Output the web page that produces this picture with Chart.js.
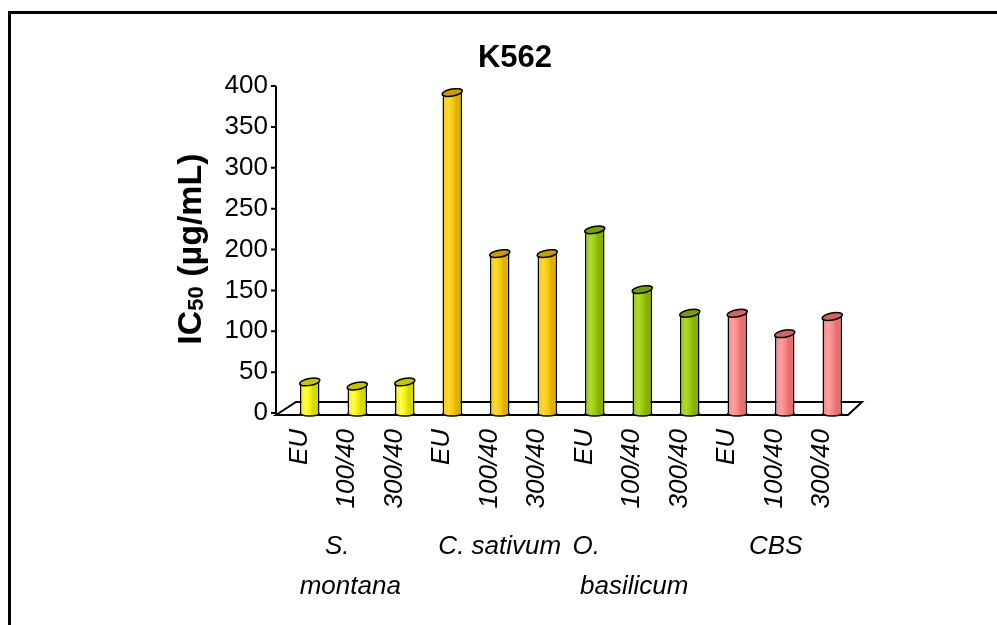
<!DOCTYPE html>
<html>
<head>
<meta charset="utf-8">
<script src="https://cdn.jsdelivr.net/npm/chart.js@4"></script>
<style>
  body { margin: 0; background: #fff; }
  #wrap { position: relative; width: 997px; height: 625px; overflow: hidden; }
  #frame { position: absolute; left: 8px; top: 11px; right: -5px; bottom: -5px; border-left: 3px solid #000; border-top: 3px solid #000; }
  canvas { position: absolute; left: 0; top: 0; }
</style>
</head>
<body>
<div id="wrap"><div id="frame"></div><canvas id="myChart" width="997" height="625"></canvas></div>
<script>
// data
const labels = ['EU', '100/40', '300/40', 'EU', '100/40', '300/40', 'EU', '100/40', '300/40', 'EU', '100/40', '300/40'];
const groups = [['S.', 'montana'], ['C. sativum'], ['O.', 'basilicum'], ['CBS']];
const ic50 = [38, 33, 38, 392, 195, 195, 224, 151, 122, 122, 97, 118];
const yTicks = [0, 50, 100, 150, 200, 250, 300, 350, 400];
const chartTitle = 'K562';

// one colour set per group (3 bars each)
const palette = [
    { base: '#F0F000', light: '#FFFF4D', dark: '#D6D600', cap: '#C4C400' },
    { base: '#F8C800', light: '#FFD83A', dark: '#E0B000', cap: '#C99D00' },
    { base: '#99C800', light: '#B0D838', dark: '#86B000', cap: '#76A000' },
    { base: '#FA8282', light: '#FFA0A0', dark: '#E27070', cap: '#D06666' }
];
const FONT = "'Liberation Sans', Arial, sans-serif";
// the wrapped group names are not centred line by line in the original
const lineShift = [[-10, 3], [10], [-46, 2], [1]];

function colorsFor(i) {
    return palette[Math.floor(i / 3)];
}

function barGradient(ctx, x, w, c) {
    const g = ctx.createLinearGradient(x - w / 2, 0, x + w / 2, 0);
    g.addColorStop(0, c.base);
    g.addColorStop(0.3, c.light);
    g.addColorStop(0.55, c.base);
    g.addColorStop(0.7, c.dark);
    g.addColorStop(1, c.dark);
    return g;
}

const cylinders = {
    id: 'cylinders',
    beforeDatasetsDraw(chart) {
        const ctx = chart.ctx;
        const a = chart.chartArea;
        const y = chart.scales.y;
        const b = y.getPixelForValue(0);
        ctx.save();
        ctx.strokeStyle = '#000';
        ctx.lineWidth = 2;
        // floor
        ctx.beginPath();
        ctx.moveTo(a.left - 10, b + 2);
        ctx.lineTo(a.left + 10, b - 11);
        ctx.lineTo(a.right + 6, b - 11);
        ctx.lineTo(a.right - 8, b + 2);
        ctx.closePath();
        ctx.stroke();
        // value axis
        ctx.beginPath();
        ctx.moveTo(a.left - 10, y.getPixelForValue(400));
        ctx.lineTo(a.left - 10, b + 2);
        yTicks.forEach(function (v) {
            const py = y.getPixelForValue(v);
            ctx.moveTo(a.left - 15, py);
            ctx.lineTo(a.left - 10, py);
        });
        ctx.stroke();
        ctx.restore();
    },
    afterDatasetsDraw(chart) {
        const ctx = chart.ctx;
        const meta = chart.getDatasetMeta(0);
        ctx.save();
        ctx.strokeStyle = '#000';
        ctx.lineWidth = 1.5;
        meta.data.forEach(function (bar, i) {
            const c = colorsFor(i);
            const w = bar.width;
            // rounded bottom
            ctx.beginPath();
            ctx.ellipse(bar.x, bar.base, w / 2, 3, 0, 0, Math.PI);
            ctx.fillStyle = barGradient(ctx, bar.x, w, c);
            ctx.fill();
            ctx.stroke();
            // top cap
            ctx.beginPath();
            ctx.ellipse(bar.x, bar.y, w / 2 + 0.5, 3.5, -0.18, 0, Math.PI * 2);
            ctx.fillStyle = c.cap;
            ctx.fill();
            ctx.stroke();
        });
        ctx.restore();
    },
    afterDraw(chart) {
        const ctx = chart.ctx;
        const x = chart.scales.x;
        ctx.save();
        ctx.fillStyle = '#000';
        ctx.textAlign = 'center';
        ctx.textBaseline = 'middle';
        // title
        ctx.font = 'bold 31px ' + FONT;
        ctx.fillText(chartTitle, 515, 58);
        // group names under the ticks
        ctx.font = 'italic 26px ' + FONT;
        groups.forEach(function (lines, g) {
            const cx = x.getPixelForValue(g * 3 + 1) - 10;
            lines.forEach(function (t, k) {
                ctx.fillText(t, cx + lineShift[g][k], 547 + k * 40);
            });
        });
        // y axis title with subscript
        ctx.translate(201, 249);
        ctx.rotate(-Math.PI / 2);
        ctx.textAlign = 'left';
        ctx.textBaseline = 'alphabetic';
        const big = 'bold 34px ' + FONT, small = 'bold 22px ' + FONT;
        ctx.font = big;
        const w1 = ctx.measureText('IC').width;
        const w3 = ctx.measureText(' (µg/mL)').width;
        ctx.font = small;
        const w2 = ctx.measureText('50').width;
        let sx = -(w1 + w2 + w3) / 2;
        ctx.font = big;
        ctx.fillText('IC', sx, 0);
        ctx.font = small;
        ctx.fillText('50', sx + w1, 2);
        ctx.font = big;
        ctx.fillText(' (µg/mL)', sx + w1 + w2, 0);
        ctx.restore();
    }
};

const ctx = document.getElementById('myChart').getContext('2d');
const myChart = new Chart(ctx, {
    type: 'bar',
    data: {
        labels: labels,
        datasets: [{
            label: 'IC50',
            data: ic50,
            backgroundColor: function (context) {
                const c = colorsFor(context.dataIndex);
                const chart = context.chart;
                if (!chart.chartArea || !chart.scales.x) return c.base;
                const px = chart.scales.x.getPixelForValue(context.dataIndex);
                return barGradient(chart.ctx, px, 19, c);
            },
            borderColor: '#000',
            borderWidth: 1.5,
            borderSkipped: 'bottom',
            categoryPercentage: 1,
            barPercentage: 0.41
        }]
    },
    options: {
        responsive: false,
        animation: false,
        layout: { padding: { left: 0, right: 141, top: 86, bottom: 0 } },
        plugins: {
            legend: { display: false },
            tooltip: { enabled: false },
            title: { display: false }
        },
        scales: {
            x: {
                grid: { display: false, drawTicks: false },
                border: { display: false },
                ticks: {
                    color: '#000',
                    font: { family: FONT, size: 26, style: 'italic' },
                    minRotation: 90,
                    maxRotation: 90,
                    autoSkip: false,
                    padding: 16,
                    labelOffset: -10
                },
                afterFit: function (scale) { scale.height = 212; }
            },
            y: {
                min: 0,
                max: 400,
                grid: { display: false, drawTicks: false },
                border: { display: false },
                ticks: {
                    stepSize: 50,
                    color: '#000',
                    font: { family: FONT, size: 26 },
                    padding: 18
                },
                afterFit: function (scale) { scale.width = 286; }
            }
        }
    },
    plugins: [cylinders]
});
</script>
</body>
</html>
